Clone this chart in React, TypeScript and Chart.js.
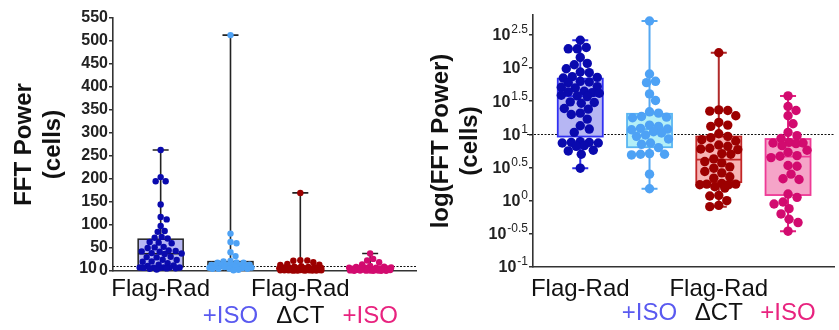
import React, { useEffect, useRef } from 'react';
import { Chart, registerables } from 'chart.js';

Chart.register(...registerables);

// ---------- data (log10 of FFT power per cell) ----------
const groupNames = ['Flag-Rad', 'Flag-Rad +ISO', 'Flag-Rad ΔCT', 'Flag-Rad ΔCT +ISO'];
const tickLines = [['Flag-Rad', ''], ['', '+ISO'], ['Flag-Rad', 'ΔCT'], ['', '+ISO']];
const tickColors = ['#111111', '#5a5af0', '#111111', '#e8237f'];

const flagRadLog = [
  2.42, 2.31, 2.29, 2.29, 2.16, 2.07, 2.05, 1.99, 1.94, 1.93, 1.87, 1.86, 1.85, 1.8, 1.79, 1.78,
  1.72, 1.71, 1.7, 1.65, 1.64, 1.63, 1.62, 1.59, 1.58, 1.57, 1.49, 1.48, 1.47, 1.39, 1.38, 1.32,
  1.3, 1.23, 1.13, 1.08, 1.03, 0.89, 0.88, 0.88, 0.87, 0.87, 0.83, 0.82, 0.76, 0.75, 0.7, 0.49,
];
const flagRadIsoLog = [
  2.71, 1.91, 1.8, 1.78, 1.61, 1.51, 1.34, 1.32, 1.27, 1.26, 1.25, 1.14, 1.12, 1.09, 1.08, 1.07,
  1.04, 1.02, 0.99, 0.97, 0.93, 0.87, 0.85, 0.8, 0.71, 0.7, 0.7, 0.69, 0.4, 0.18,
];
const flagRadDctLog = [
  2.23, 1.37, 1.36, 1.35, 1.28, 1.18, 1.14, 1.12, 1.01, 0.97, 0.95, 0.92, 0.9, 0.84, 0.82, 0.79,
  0.78, 0.77, 0.71, 0.7, 0.63, 0.59, 0.57, 0.51, 0.49, 0.44, 0.42, 0.36, 0.34, 0.26, 0.25, 0.25,
  0.24, 0.24, 0.21, 0.19, 0.08, 0.07, 0.0, -0.07, -0.09,
];
const flagRadDctIsoLog = [
  1.58, 1.42, 1.36, 1.28, 1.16, 1.03, 0.98, 0.94, 0.88, 0.87, 0.87, 0.86, 0.83, 0.76, 0.73, 0.68,
  0.67, 0.65, 0.53, 0.52, 0.4, 0.33, 0.32, 0.1, 0.05, -0.02, -0.05, -0.12, -0.2, -0.28, -0.33, -0.46,
];

// box statistics (log10)
const q1Log = [0.967, 0.806, 0.28, 0.085];
const medianLog = [1.576, 1.08, 0.62, 0.665];
const q3Log = [1.84, 1.31, 0.967, 0.93];

// axis ticks
const linearTicks = [0, 50, 100, 150, 200, 250, 300, 350, 400, 450, 500, 550];
const logTicks = [-1, -0.5, 0, 0.5, 1, 1.5, 2, 2.5];
const referenceLevel = 10; // dotted reference line (cells)

// ---------- styling ----------
const pointColors = ['#0a0aae', '#4ea2f5', '#9c0000', '#d20b6f'];
const boxFills = ['#b6b6f3', '#b4eff7', '#f7b4b4', '#f5a4c8'];
const boxBorders = ['#3030f2', '#5ab6f2', '#c22626', '#ee3a96'];
const whiskerColors = ['#2d2de8', '#55a8f2', '#b02a2a', '#e0207f'];

const FONT = "'Liberation Sans', Arial, Helvetica, sans-serif";

function swarm(ys: number[], r: number, maxHalf: number): number[] {
  const order = ys.map((_, i) => i).sort((a, b) => ys[a] - ys[b]);
  const placed: { x: number; y: number }[] = [];
  const out = new Array(ys.length).fill(0);
  const minD = 2 * r * 0.95;
  for (const i of order) {
    const y = ys[i];
    let best = 0;
    let bestScore = -Infinity;
    for (let k = 0; k <= 2 * maxHalf; k++) {
      const cand = (k % 2 === 1 ? 1 : -1) * Math.ceil(k / 2);
      let md = Infinity;
      for (const p of placed) {
        const d = Math.hypot(p.x - cand, p.y - y);
        if (d < md) md = d;
      }
      if (md >= minD) {
        best = cand;
        break;
      }
      if (md > bestScore) {
        bestScore = md;
        best = cand;
      }
    }
    placed.push({ x: best, y });
    out[i] = best;
  }
  return out;
}

function buildChart(canvas: HTMLCanvasElement, isLog: boolean) {
  const groups = [flagRadLog, flagRadIsoLog, flagRadDctLog, flagRadDctIsoLog];
  const conv = (v: number) => (isLog ? v : Math.pow(10, v));
  const values = groups.map((g) => g.map(conv));
  const stats = groups.map((g, i) => ({
    q1: conv(q1Log[i]),
    med: conv(medianLog[i]),
    q3: conv(q3Log[i]),
    min: conv(Math.min(...g)),
    max: conv(Math.max(...g)),
  }));
  const radius = isLog ? 4.7 : 3.2;
  const maxHalf = isLog ? 19 : 21;
  const refValue = isLog ? Math.log10(referenceLevel) : referenceLevel;

  const boxPlugin = {
    id: 'boxes',
    beforeDatasetsDraw(chart: any) {
      const { ctx, chartArea } = chart;
      const x = chart.scales.x;
      const y = chart.scales.y;
      ctx.save();
      // reference line
      const ry = Math.round(y.getPixelForValue(refValue)) + 0.5;
      ctx.strokeStyle = '#111';
      ctx.lineWidth = 1.2;
      ctx.setLineDash([2, 1.5]);
      ctx.beginPath();
      ctx.moveTo(chartArea.left - (isLog ? 6 : 0), ry);
      ctx.lineTo(chartArea.right, ry);
      ctx.stroke();
      ctx.setLineDash([]);
      stats.forEach((s, i) => {
        const cx = x.getPixelForValue(i);
        const hw = 22.5;
        const cap = 8;
        const wc = isLog ? whiskerColors[i] : '#222';
        const bc = isLog ? boxBorders[i] : '#222';
        const yq1 = y.getPixelForValue(s.q1);
        const yq3 = y.getPixelForValue(s.q3);
        const ymed = y.getPixelForValue(s.med);
        const ymin = y.getPixelForValue(s.min);
        const ymax = y.getPixelForValue(s.max);
        ctx.strokeStyle = wc;
        ctx.lineWidth = isLog ? 2 : 1.6;
        ctx.beginPath();
        ctx.moveTo(cx, yq3);
        ctx.lineTo(cx, ymax);
        ctx.moveTo(cx - cap, ymax);
        ctx.lineTo(cx + cap, ymax);
        ctx.moveTo(cx, yq1);
        ctx.lineTo(cx, ymin);
        ctx.moveTo(cx - cap, ymin);
        ctx.lineTo(cx + cap, ymin);
        ctx.stroke();
        ctx.fillStyle = boxFills[i];
        ctx.fillRect(cx - hw, yq3, 2 * hw, yq1 - yq3);
        ctx.strokeStyle = bc;
        ctx.lineWidth = isLog ? 1.8 : 1.5;
        ctx.strokeRect(cx - hw, yq3, 2 * hw, yq1 - yq3);
        ctx.beginPath();
        ctx.moveTo(cx - hw, ymed);
        ctx.lineTo(cx + hw, ymed);
        ctx.stroke();
      });
      ctx.restore();
    },
    afterDraw(chart: any) {
      const { ctx } = chart;
      const y = chart.scales.y;
      const axisX = chart.chartArea.left;
      ctx.save();
      ctx.fillStyle = '#222';
      if (isLog) {
        logTicks.forEach((v) => {
          const py = y.getPixelForValue(v);
          ctx.font = `12px ${FONT}`;
          ctx.textAlign = 'right';
          ctx.textBaseline = 'middle';
          const exp = String(v);
          const ex = axisX - 5;
          ctx.fillText(exp, ex, py - 5);
          const w = ctx.measureText(exp).width;
          ctx.font = `bold 16px ${FONT}`;
          ctx.fillText('10', ex - w - 1, py + 1);
        });
      } else {
        ctx.font = `bold 16px ${FONT}`;
        ctx.textAlign = 'right';
        ctx.textBaseline = 'middle';
        ctx.fillText('10', axisX - 16, y.getPixelForValue(referenceLevel) + 2);
      }
      ctx.restore();
    },
  };

  const chart = new Chart(canvas, {
    type: 'scatter',
    data: {
      datasets: values.map((vals, i) => ({
        label: groupNames[i],
        data: vals.map((v) => ({ x: i, y: v })),
        pointRadius: radius,
        pointHoverRadius: radius,
        pointBackgroundColor: pointColors[i],
        pointBorderColor: pointColors[i],
        pointBorderWidth: 0,
        clip: false as any,
      })),
    },
    options: {
      responsive: false,
      animation: false,
      devicePixelRatio: 1,
      layout: { padding: { top: isLog ? 15 : 18, right: isLog ? 0 : 1, left: 0, bottom: 0 } },
      plugins: { legend: { display: false }, tooltip: { enabled: false } },
      events: [],
      scales: {
        x: {
          type: 'linear',
          min: -0.6825,
          max: 3.668,
          afterBuildTicks: (scale: any) => {
            scale.ticks = [0, 1, 2, 3].map((v) => ({ value: v }));
          },
          afterFit: (scale: any) => {
            scale.height = isLog ? 63 : 59;
            scale.paddingLeft = 0;
            scale.paddingRight = 0;
          },
          grid: { display: false, drawTicks: false },
          border: { display: true, color: '#333', width: 1.6 },
          ticks: {
            autoSkip: false,
            maxRotation: 0,
            minRotation: 0,
            padding: isLog ? 10 : 5,
            font: { family: FONT, size: 24, lineHeight: isLog ? 1.0 : 1.12 },
            color: (c: any) => tickColors[c.index] || '#111',
            callback: (v: any) => tickLines[Math.round(Number(v))] || '',
          },
        },
        y: {
          type: 'linear',
          min: isLog ? -1 : 0,
          max: isLog ? 2.8 : 550,
          afterBuildTicks: (scale: any) => {
            scale.ticks = (isLog ? logTicks : linearTicks).map((v) => ({ value: v }));
          },
          afterFit: (scale: any) => {
            scale.width = 113;
            scale.paddingTop = 0;
            scale.paddingBottom = 0;
          },
          grid: { display: true, drawOnChartArea: false, drawTicks: true, tickLength: 4, color: '#333', lineWidth: 1.5 },
          border: { display: true, color: '#333', width: 1.6 },
          title: {
            display: true,
            text: isLog ? ['log(FFT Power)', '(cells)'] : ['FFT Power', '(cells)'],
            font: { family: FONT, size: 24, weight: 'bold', lineHeight: 1.2 },
            color: '#111',
            padding: { top: isLog ? 7 : 10, bottom: 0 },
          },
          ticks: {
            padding: 1,
            font: { family: FONT, size: 16, weight: 'bold' },
            color: '#222',
            callback: (v: any) => (isLog ? '' : String(v)),
          },
        },
      },
    } as any,
    plugins: [boxPlugin],
  });

  // lay the points out as a bee-swarm using the chart's own scales
  const xs: any = chart.scales.x;
  const ysc: any = chart.scales.y;
  const pxPerUnit = xs.getPixelForValue(1) - xs.getPixelForValue(0);
  values.forEach((vals, i) => {
    const pys = vals.map((v) => ysc.getPixelForValue(v));
    const offs = swarm(pys, radius, maxHalf);
    (chart.data.datasets[i] as any).data = vals.map((v, k) => ({ x: i + offs[k] / pxPerUnit, y: v }));
  });
  chart.update('none');
  return chart;
}

function Panel({ isLog, left, width }: { isLog: boolean; left: number; width: number }) {
  const ref = useRef<HTMLCanvasElement>(null);
  useEffect(() => {
    if (!ref.current) return;
    const chart = buildChart(ref.current, isLog);
    return () => chart.destroy();
  }, [isLog]);
  return (
    <canvas
      ref={ref}
      width={width}
      height={330}
      style={{ position: 'absolute', left, top: 0, width, height: 330, display: 'block' }}
    />
  );
}

export default function App() {
  return (
    <div
      style={{
        position: 'absolute',
        left: 0,
        top: 0,
        width: 839,
        height: 330,
        background: '#ffffff',
        overflow: 'hidden',
      }}
    >
      <Panel isLog={false} left={0} width={420} />
      <Panel isLog={true} left={420} width={419} />
    </div>
  );
}
